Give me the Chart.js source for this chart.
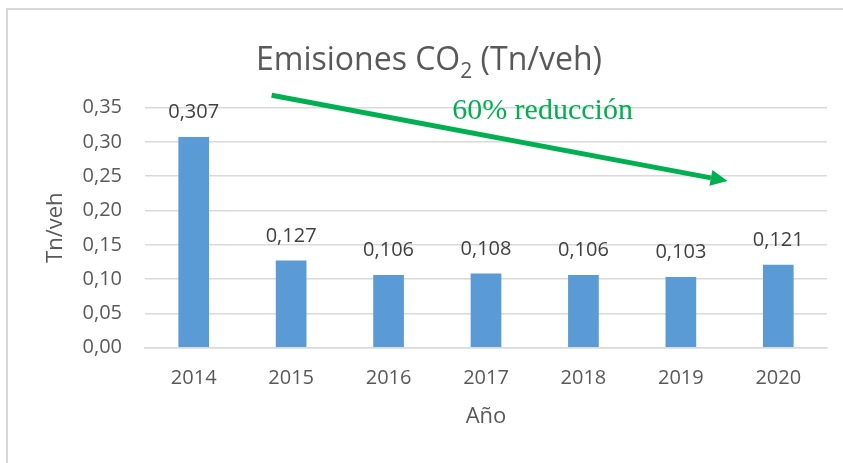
<!DOCTYPE html>
<html lang="es">
<head>
    <meta charset="UTF-8">
    <title>Emisiones CO2 (Tn/veh)</title>
    <script src="https://cdn.jsdelivr.net/npm/chart.js"></script>
    <style>
        html, body { margin: 0; padding: 0; background: #fff; }
        .grafico-container { position: relative; width: 843px; height: 463px; }
    </style>
</head>
<body>
    <div class="grafico-container">
        <canvas id="emisionesChart"></canvas>
    </div>

    <script>
        // Datos del gráfico
        const anios = ['2014', '2015', '2016', '2017', '2018', '2019', '2020'];
        const emisiones = [0.307, 0.127, 0.106, 0.108, 0.106, 0.103, 0.121];
        const ticksY = [0, 0.05, 0.10, 0.15, 0.20, 0.25, 0.30, 0.35];

        // Flecha de reducción (en unidades de los ejes: índice de año, Tn/veh)
        const flechaInicio = [0.80, 0.368];
        const flechaFin = [5.48, 0.243];
        const textoReduccion = '60% reducción';
        const textoReduccionPos = [3.58, 0.334];

        const fuente = "'Open Sans', 'Liberation Sans', sans-serif";
        const verde = '#00B050';

        const fmt = (v, d) => v.toFixed(d).replace('.', ',');

        // Fondo y borde del gráfico
        const fondoPlugin = {
            id: 'fondo',
            beforeDraw(chart) {
                const ctx = chart.ctx;
                ctx.save();
                ctx.fillStyle = '#fff';
                ctx.fillRect(0, 0, chart.width, chart.height);
                ctx.strokeStyle = '#D9D9D9';
                ctx.lineWidth = 2;
                ctx.beginPath();
                ctx.moveTo(7, chart.height);
                ctx.lineTo(7, 9);
                ctx.lineTo(chart.width, 9);
                ctx.stroke();
                ctx.restore();
            }
        };

        // Etiquetas de valor encima de cada barra
        const etiquetasPlugin = {
            id: 'etiquetas',
            afterDatasetsDraw(chart) {
                const ctx = chart.ctx;
                const meta = chart.getDatasetMeta(0);
                ctx.save();
                ctx.font = '20px ' + fuente;
                ctx.fillStyle = '#404040';
                ctx.textAlign = 'center';
                ctx.textBaseline = 'alphabetic';
                meta.data.forEach((barra, i) => {
                    ctx.fillText(fmt(emisiones[i], 3), barra.x, barra.y - 19);
                });
                ctx.restore();
            }
        };

        // Título con subíndice, flecha y texto de reducción
        const anotacionesPlugin = {
            id: 'anotaciones',
            afterDraw(chart) {
                const ctx = chart.ctx;
                const x = chart.scales.x, y = chart.scales.y;
                ctx.save();

                // título
                const partes = [['Emisiones CO', 32, 0], ['2', 21, 8], [' (Tn/veh)', 32, 0]];
                let ancho = 0;
                partes.forEach(p => { ctx.font = p[1] + 'px ' + fuente; ancho += ctx.measureText(p[0]).width; });
                let px = 429 - ancho / 2;
                ctx.fillStyle = '#595959';
                ctx.textBaseline = 'alphabetic';
                ctx.textAlign = 'left';
                partes.forEach(p => {
                    ctx.font = p[1] + 'px ' + fuente;
                    ctx.fillText(p[0], px, 70 + p[2]);
                    px += ctx.measureText(p[0]).width;
                });

                // flecha
                const x0 = x.getPixelForValue(flechaInicio[0]), y0 = y.getPixelForValue(flechaInicio[1]);
                const x1 = x.getPixelForValue(flechaFin[0]), y1 = y.getPixelForValue(flechaFin[1]);
                const ang = Math.atan2(y1 - y0, x1 - x0);
                const largo = 17, semi = 8;
                const bx = x1 - largo * Math.cos(ang), by = y1 - largo * Math.sin(ang);
                ctx.strokeStyle = verde;
                ctx.fillStyle = verde;
                ctx.lineWidth = 5;
                ctx.beginPath();
                ctx.moveTo(x0, y0);
                ctx.lineTo(bx, by);
                ctx.stroke();
                ctx.beginPath();
                ctx.moveTo(x1, y1);
                ctx.lineTo(bx + semi * Math.sin(ang), by - semi * Math.cos(ang));
                ctx.lineTo(bx - semi * Math.sin(ang), by + semi * Math.cos(ang));
                ctx.closePath();
                ctx.fill();

                // texto
                ctx.font = "30px 'Liberation Serif', 'Times New Roman', serif";
                ctx.textAlign = 'center';
                ctx.fillText(textoReduccion, x.getPixelForValue(textoReduccionPos[0]), y.getPixelForValue(textoReduccionPos[1]));
                ctx.restore();
            }
        };

        function crearGrafico() {
            const ctx = document.getElementById('emisionesChart').getContext('2d');
            new Chart(ctx, {
                type: 'bar',
                data: {
                    labels: anios,
                    datasets: [{
                        label: 'Emisiones CO2',
                        data: emisiones,
                        backgroundColor: '#5B9BD5',
                        borderWidth: 0,
                        categoryPercentage: 1,
                        barPercentage: 0.315
                    }]
                },
                options: {
                    responsive: true,
                    maintainAspectRatio: false,
                    animation: false,
                    layout: { padding: { top: 107.6, right: 16, left: 0, bottom: 0 } },
                    plugins: {
                        legend: { display: false },
                        title: { display: false },
                        tooltip: { enabled: false }
                    },
                    scales: {
                        x: {
                            grid: { display: false, drawTicks: false },
                            border: { color: '#D9D9D9', width: 1.5 },
                            ticks: { color: '#595959', font: { family: fuente, size: 20 }, padding: 19 },
                            title: { display: true, text: 'Año', color: '#595959', font: { family: fuente, size: 22 }, padding: { top: 0, bottom: 33 } },
                            afterFit: (s) => { s.height = 115.3; }
                        },
                        y: {
                            min: 0,
                            max: 0.35,
                            afterBuildTicks: (s) => { s.ticks = ticksY.map(v => ({ value: v })); },
                            grid: { color: '#D9D9D9', lineWidth: 1.5, drawTicks: false },
                            border: { display: false },
                            ticks: {
                                color: '#595959',
                                font: { family: fuente, size: 20 },
                                padding: 23,
                                callback: (v) => fmt(v, 2)
                            },
                            title: { display: true, text: 'Tn/veh', color: '#595959', font: { family: fuente, size: 22 }, padding: { top: 43, bottom: 0 } },
                            afterFit: (s) => { s.width = 145; }
                        }
                    }
                },
                plugins: [fondoPlugin, etiquetasPlugin, anotacionesPlugin]
            });
        }

        crearGrafico();
    </script>
</body>
</html>
